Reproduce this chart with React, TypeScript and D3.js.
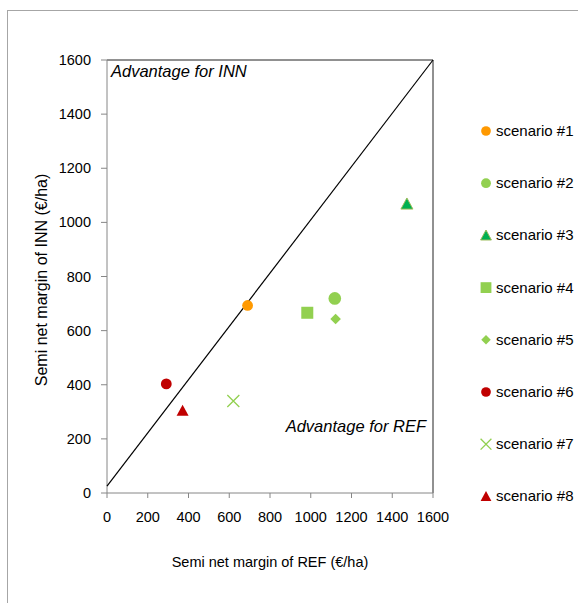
import React from "react";
import * as d3 from "d3";

const scenarios = ["scenario #1", "scenario #2", "scenario #3", "scenario #4", "scenario #5", "scenario #6", "scenario #7", "scenario #8"];
const refValues = [690, 1118, 1472, 983, 1122, 291, 620, 371];
const innValues = [693, 719, 1068, 666, 643, 403, 340, 304];
const shapes = ["circle", "bigcircle", "triangle", "square", "diamond", "circle", "cross", "triangle"];
const colors = ["#FF9900", "#92D050", "#00B050", "#92D050", "#92D050", "#C00000", "#92D050", "#C00000"];
const ticks = [0, 200, 400, 600, 800, 1000, 1200, 1400, 1600];
const diagonal = [[0, 25], [1600, 1600]];

const W = 578, H = 603;
const L = 107, R = 433, T = 60, B = 493;
const FONT = "'Liberation Sans', Arial, sans-serif";

function Marker({ shape, color, x, y, legend }: { shape: string; color: string; x: number; y: number; legend?: boolean }) {
  const s = legend ? 0.9 : 1;
  if (shape === "circle") return <circle cx={x} cy={y} r={5.4 * s} fill={color} />;
  if (shape === "bigcircle") return <circle cx={x} cy={y} r={(legend ? 4.9 : 6.3)} fill={color} />;
  if (shape === "square") { const h = 6 * s; return <rect x={x - h} y={y - h} width={2 * h} height={2 * h} fill={color} />; }
  if (shape === "diamond") { const h = 5.3 * s; return <path d={`M${x},${y - h}L${x + h},${y}L${x},${y + h}L${x - h},${y}Z`} fill={color} />; }
  if (shape === "triangle") {
    const h = 6 * s;
    const stroke = color === "#00B050" ? "#9BBB59" : "none";
    return <path d={`M${x},${y - h}L${x + h},${y + h * 0.85}L${x - h},${y + h * 0.85}Z`} fill={color} stroke={stroke} strokeWidth={1} />;
  }
  if (shape === "cross") { const h = 6 * s; return <path d={`M${x - h},${y - h}L${x + h},${y + h}M${x - h},${y + h}L${x + h},${y - h}`} stroke={color} strokeWidth={1.3} fill="none" />; }
  return null;
}

export default function App() {
  const x = d3.scaleLinear().domain([0, 1600]).range([L, R]);
  const y = d3.scaleLinear().domain([0, 1600]).range([B, T]);
  const line = d3.line<number[]>().x(d => x(d[0])).y(d => y(d[1]));
  return (
    <svg width={W} height={H} style={{ position: "absolute", left: 0, top: 0, background: "#fff" }} fontFamily={FONT}>
      <rect x={7.5} y={10.5} width={700} height={700} fill="none" stroke="#a6a6a6" strokeWidth={1} />
      <line x1={L} x2={R} y1={T} y2={T} stroke="#222" strokeWidth={1} />
      <line x1={R} x2={R} y1={T} y2={B} stroke="#222" strokeWidth={1} />
      <line x1={L} x2={L} y1={T} y2={B} stroke="#868686" strokeWidth={1} />
      <line x1={L} x2={R} y1={B} y2={B} stroke="#868686" strokeWidth={1} />
      {ticks.map(t => (
        <g key={"x" + t}>
          <line x1={x(t)} x2={x(t)} y1={B} y2={B + 5} stroke="#868686" />
          <text x={x(t)} y={B + 29} textAnchor="middle" fontSize={14.5} fill="#000">{t}</text>
        </g>
      ))}
      {ticks.map(t => (
        <g key={"y" + t}>
          <line x1={L - 6} x2={L} y1={y(t)} y2={y(t)} stroke="#868686" />
          <text x={L - 16} y={y(t) + 5} textAnchor="end" fontSize={14.5} fill="#000">{t}</text>
        </g>
      ))}
      <path d={line(diagonal as number[][]) || ""} stroke="#000" strokeWidth={1.2} fill="none" />
      <text x={111} y={77} fontSize={16.5} fontStyle="italic" fill="#000">Advantage for INN</text>
      <text x={426} y={432} fontSize={16.5} fontStyle="italic" textAnchor="end" fill="#000">Advantage for REF</text>
      {scenarios.map((s, i) => (
        <Marker key={s} shape={shapes[i]} color={colors[i]} x={x(refValues[i])} y={y(innValues[i])} />
      ))}
      <text x={270} y={567} textAnchor="middle" fontSize={14.5} fill="#000">Semi net margin of REF (€/ha)</text>
      <text transform={`translate(47,280) rotate(-90)`} textAnchor="middle" fontSize={16} fill="#000">Semi net margin of INN (€/ha)</text>
      {scenarios.map((s, i) => {
        const ly = 131 + i * 52.2;
        return (
          <g key={"l" + s}>
            <Marker shape={shapes[i]} color={colors[i]} x={486} y={ly} legend />
            <text x={496} y={ly + 5} fontSize={15} fill="#000">{s}</text>
          </g>
        );
      })}
    </svg>
  );
}
